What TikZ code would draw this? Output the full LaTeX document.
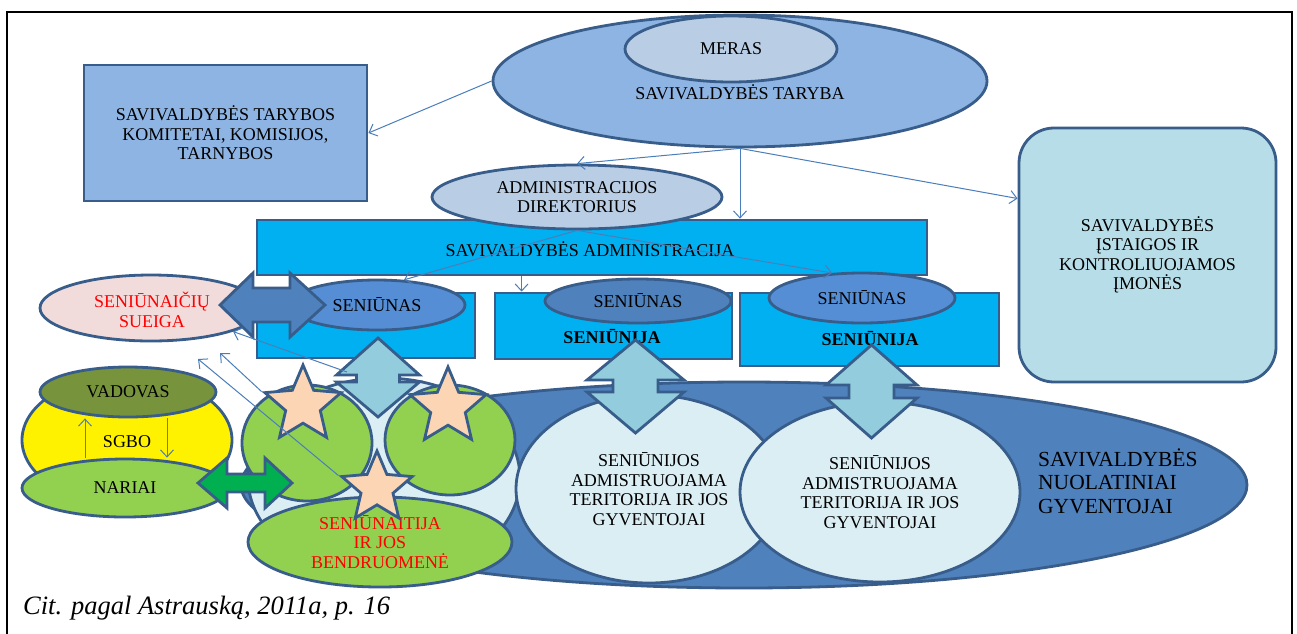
\documentclass[tikz,border=0pt]{standalone}
\usepackage{fontspec}
\setmainfont{Liberation Serif}
\usetikzlibrary{shapes.geometric,arrows.meta,calc}
\definecolor{bordc}{HTML}{385D8A}
\definecolor{cTar}{HTML}{8EB4E3}
\definecolor{cMer}{HTML}{B9CDE5}
\definecolor{cAdm}{HTML}{00B0F0}
\definecolor{cSen}{HTML}{558ED5}
\definecolor{cSenD}{HTML}{4F81BD}
\definecolor{cIst}{HTML}{B7DEE8}
\definecolor{cSue}{HTML}{F2DCDB}
\definecolor{cGyv}{HTML}{4F81BD}
\definecolor{cTer}{HTML}{DBEEF4}
\definecolor{cGrn}{HTML}{92D050}
\definecolor{cStar}{HTML}{FCD5B5}
\definecolor{cVad}{HTML}{77933C}
\definecolor{cArrG}{HTML}{00B050}
\definecolor{cArrL}{HTML}{93CDDD}
\definecolor{thinc}{HTML}{4A7EBB}
\newcommand\myfs{\fontsize{18}{19.5}\selectfont}
\newcommand\mybig{\fontsize{21.5}{23.5}\selectfont}
\newcommand\mycit{\fontsize{26.5}{28}\selectfont}
\newcommand\myvarrow[7]{%
  \draw[blk, fill=cArrL, shift={(#1,0)}] (0,#2) -- (#6,#3) -- (#7,#3) -- (#7,#4) -- (#6,#4) -- (0,#5) -- (-#6,#4) -- (-#7,#4) -- (-#7,#3) -- (-#6,#3) -- cycle;}
\begin{document}
\begin{tikzpicture}[x=1pt,y=-1pt,
  bd/.style={draw=bordc, line width=2.8pt},
  ell/.style={ellipse, bd, inner sep=0pt, font=\myfs, align=center},
  box/.style={rectangle, bd, inner sep=0pt, font=\myfs, align=center},
  txt/.style={font=\myfs, align=center, inner sep=0pt},
  starn/.style={star, star points=5, star point ratio=2.2, bd, fill=cStar, inner sep=0pt, minimum size=#1},
  thinarr/.style={draw=thinc, line width=1pt, -{Straight Barb[length=7pt,width=13pt]}},
  blk/.style={bd, line join=miter},
]
\useasboundingbox (0,0) rectangle (1297,633);
\fill[white] (0,0) rectangle (1297,633);
\draw[line width=2pt] (7,12) rectangle (1292,660);

% top part
\node[ell, fill=cTar, minimum width=494pt, minimum height=132pt] (tar) at (740,81) {};
\node[ell, fill=cMer, minimum width=212pt, minimum height=66pt] (mer) at (731,49) {MERAS};
\node[txt] (tart) at (740,92) {SAVIVALDYBĖS TARYBA};
\node[box, fill=cTar, minimum width=283pt, minimum height=136pt] (kom) at (225.5,133) {SAVIVALDYBĖS TARYBOS\\KOMITETAI, KOMISIJOS,\\TARNYBOS};
\node[box, fill=cIst, rounded corners=35pt, minimum width=257pt, minimum height=254pt] (ist) at (1147.5,255) {SAVIVALDYBĖS\\ĮSTAIGOS IR\\KONTROLIUOJAMOS\\ĮMONĖS};
\node[box, fill=cAdm, minimum width=670pt, minimum height=55pt] (adm) at (592,247.5) {};
\node[txt] (admt) at (590,249) {SAVIVALDYBĖS ADMINISTRACIJA};
\node[ell, fill=cMer, minimum width=290pt, minimum height=64pt] (dir) at (577,197) {ADMINISTRACIJOS\\DIREKTORIUS};

% seniunijos
\node[box, fill=cAdm, minimum width=218pt, minimum height=65pt] (b1) at (366,325.5) {};
\node[box, fill=cAdm, minimum width=237pt, minimum height=66pt] (b2) at (613.5,326) {};
\node[txt, font=\myfs\bfseries] (b2t) at (612,337) {SENIŪNIJA};
\node[box, fill=cAdm, minimum width=259pt, minimum height=73pt] (b3) at (869.5,329.5) {};
\node[txt, font=\myfs\bfseries] (b3t) at (870,339) {SENIŪNIJA};
\node[ell, fill=cSen, minimum width=176pt, minimum height=50pt] (s1) at (377,305) {SENIŪNAS};
\node[ell, fill=cSenD, minimum width=186pt, minimum height=44pt] (s2) at (638,301) {SENIŪNAS};
\node[ell, fill=cSen, minimum width=186pt, minimum height=50pt] (s3) at (862,298) {SENIŪNAS};

% connectors top
\draw[thinarr] (tar.west) -- (kom.east);
\draw[thinarr] (tar.south) -- (dir.north);
\draw[thinarr] (tar.south) -- (tar.south |- adm.north);
\draw[thinarr] (tar.south) -- ($(ist.north west)!0.28!(ist.south west)$);
\draw[thinarr] (dir.south) -- (s1.43);
\draw[thinarr] (dir.south) -- (s3.140);
\coordinate (b2a) at ([xshift=28pt]b2.north west);
\draw[thinarr] (b2a |- adm.south) -- (b2a);

% residents
\node[ell, fill=cGyv, minimum width=1006pt, minimum height=206pt] (gyv) at (744,485) {};
\node[font=\mybig, align=left, inner sep=0pt, anchor=west] (gyvt) at (1038,481) {SAVIVALDYBĖS\\NUOLATINIAI\\GYVENTOJAI};
\node[ell, fill=cTer, minimum width=272pt, minimum height=200pt] (ter0) at (384,478) {};
\node[ell, fill=cTer, minimum width=266pt, minimum height=188pt] (terA) at (649,489) {SENIŪNIJOS\\ADMISTRUOJAMA\\TERITORIJA IR JOS\\GYVENTOJAI};
\node[ell, fill=cTer, minimum width=280pt, minimum height=180pt] (terB) at (880,492) {SENIŪNIJOS\\ADMISTRUOJAMA\\TERITORIJA IR JOS\\GYVENTOJAI};

% sueiga
\node[ell, fill=cSue, minimum width=222pt, minimum height=66pt] (sue) at (151,308) {};
\node[txt, text=red] (suet) at (152,310) {SENIŪNAIČIŲ\\SUEIGA};
\draw[blk, fill=cSenD] (220,305) -- (253,273) -- (253,288) -- (290,288) -- (290,273) -- (325,305) -- (290,337) -- (290,322) -- (253,322) -- (253,337) -- cycle;

% seniunaitija
\node[ell, fill=cGrn, minimum width=130pt, minimum height=116pt] (g1) at (307,443) {};
\node[ell, fill=cGrn, minimum width=130pt, minimum height=110pt] (g2) at (450,440) {};
\node[ell, fill=cGrn, minimum width=264pt, minimum height=90pt, text=red] (sbe) at (380,542) {SENIŪNAITIJA\\IR JOS\\BENDRUOMENĖ};
\node[starn=80pt] (st1) at (303,405) {};
\node[starn=80pt] (st2) at (448,407) {};
\node[starn=74pt] (st3) at (377,488) {};

% vertical double arrows
\myvarrow{378}{338}{375}{382}{417}{41.5}{21.5}
\myvarrow{635.5}{340}{380}{392}{433}{48.5}{22.5}
\myvarrow{871.5}{345}{385}{398}{438}{45.5}{22.5}

% SGBO
\node[ell, fill=yellow, minimum width=210pt, minimum height=130pt] (yel) at (127,440) {};
\node[txt] (sgbo) at (127,442) {SGBO};
\node[ell, fill=cVad, minimum width=176pt, minimum height=50pt] (vad) at (128,392) {VADOVAS};
\node[ell, fill=cGrn, minimum width=206pt, minimum height=58pt] (nar) at (125,488) {NARIAI};
\coordinate (sga) at (85,0);
\coordinate (sgb) at (167,0);
\draw[thinarr] (nar.north -| sga) -- (vad.south -| sga);
\draw[thinarr] (vad.south -| sgb) -- (nar.north -| sgb);
\draw[blk, fill=cArrG] (198,483) -- (227,458) -- (227,474) -- (265,474) -- (265,458) -- (292,483) -- (265,508) -- (265,492) -- (227,492) -- (227,508) -- cycle;

% arrows to sueiga
\coordinate (n1) at (347,372);
\coordinate (t2) at (220,353);
\coordinate (t3) at (198,359);
\draw[thinarr] (n1) -- (sue.344);
\draw[thinarr] (st1.outer point 2) -- (t2);
\draw[thinarr] (st3.outer point 2) -- (t3);

\node[font=\mycit\itshape, anchor=west, inner sep=0pt] (cit) at (23,608) {Cit. pagal Astrauską, 2011a, p. 16};
\end{tikzpicture}
\end{document}
